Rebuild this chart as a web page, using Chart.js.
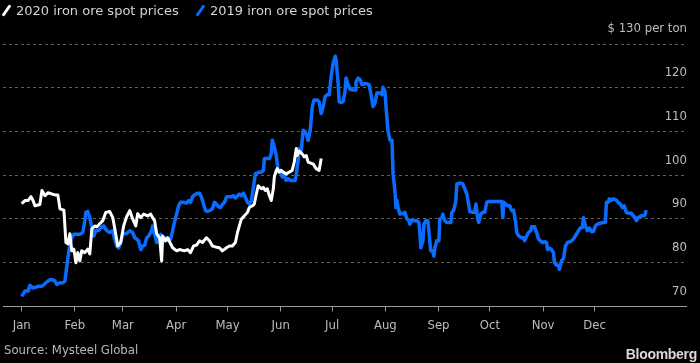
<!DOCTYPE html>
<html>
<head>
<meta charset="utf-8">
<script src="https://cdn.jsdelivr.net/npm/chart.js@4.4.1/dist/chart.umd.min.js"></script>
<style>
  html, body { margin: 0; padding: 0; background: #000; }
  #wrap { position: relative; width: 700px; height: 363px; background: #000; overflow: hidden; }
  #wrap canvas { position: absolute; left: 0; top: 0; }
  .legend-item { position: absolute; top: 2px; display: flex; align-items: center; height: 17px;
    font: 13px 'DejaVu Sans', sans-serif; color: #d4d4d4; white-space: nowrap; }
  .legend-item i { display: inline-block; width: 3px; height: 13px; margin: 0 8px 0 4px;
    transform: rotate(35deg); border-radius: 1px; }
  #source { position: absolute; left: 4px; top: 342px; font: 13px 'DejaVu Sans Condensed', 'DejaVu Sans', sans-serif; color: #b8b8b8; }
  #brand { position: absolute; right: 3px; top: 346px; font: bold 14px 'Liberation Sans', 'DejaVu Sans', sans-serif; color: #d8d8d8; letter-spacing: -0.3px; }
</style>
</head>
<body>
<div id="wrap">
  <canvas id="chart" width="700" height="363"></canvas>
  <div class="legend-item" style="left:1px"><i style="background:#ffffff"></i>2020 iron ore spot prices</div>
  <div class="legend-item" style="left:195px"><i style="background:#0a6cff"></i>2019 iron ore spot prices</div>
  <div id="source">Source: Mysteel Global</div>
  <div id="brand">Bloomberg</div>
</div>
<script>
// month starts as day-of-year
const monthStarts = [0, 31, 59, 90, 120, 151, 181, 212, 243, 273, 304, 334];
const monthLabels = ['Jan', 'Feb', 'Mar', 'Apr', 'May', 'Jun', 'Jul', 'Aug', 'Sep', 'Oct', 'Nov', 'Dec'];
const yTicks = [70, 80, 90, 100, 110, 120, 130];

// 2020 series (day of year, $ per ton)
const days2020 = [0, 1.9, 3.7, 5.4, 6.6, 7.7, 10.6, 11.8, 13.6, 15.3, 17.6, 19.4, 21.1, 22.3, 24.6,
  25.8, 26.9, 28.1, 29.2, 30.4, 31.6, 32.7, 33.9, 35.0, 36.8, 38.5, 39.7, 40.9, 42.6, 43.8, 45.5,
  47.3, 49.0, 51.3, 53.1, 54.8, 56.0, 57.7, 59.5, 61.2, 63.0, 64.7, 66.5, 67.6, 69.4, 71.1, 73.4,
  75.2, 76.3, 77.5, 78.7, 80.4, 81.6, 82.2, 83.9, 85.1, 88.0, 90.3, 92.0, 94.9, 96.7, 98.4, 100.2,
  101.9, 103.7, 105.4, 107.7, 109.5, 111.2, 113.0, 115.3, 117.0, 119.4, 121.1, 122.8, 124.6, 125.8,
  126.9, 128.1, 129.8, 131.6, 132.7, 134.5, 135.6, 136.8, 137.9, 139.7, 140.9, 142.0, 143.2, 144.4,
  145.5, 146.7, 147.3, 148.4, 149.0, 150.2, 151.3, 152.5, 154.2, 156.0, 157.7, 158.9, 160.1, 160.6,
  161.8, 163.5, 164.7, 165.9, 167.0, 168.2, 169.9, 171.7, 173.4, 174.6];
const prices2020 = [93.5, 94.2, 94.2, 95.1, 94.2, 93.0, 93.3, 96.5, 95.3, 96.0, 95.7, 95.5, 95.5, 92.3, 92.0,
  84.6, 84.3, 86.6, 82.7, 83.1, 80.0, 82.3, 80.4, 82.7, 82.3, 83.1, 82.0, 87.7, 88.4, 88.2, 88.9,
  89.6, 91.5, 91.7, 90.3, 86.6, 83.8, 84.6, 88.5, 90.5, 91.9, 90.0, 88.4, 91.2, 90.3, 91.1, 90.7,
  91.1, 90.3, 89.6, 86.6, 85.7, 80.4, 86.1, 85.0, 85.7, 83.4, 82.7, 83.0, 82.7, 83.0, 82.3, 83.8,
  84.0, 85.0, 84.6, 85.7, 85.0, 83.8, 83.6, 83.4, 82.7, 83.4, 83.8, 83.8, 84.6, 86.9,
  88.4, 90.0, 90.7, 91.5, 92.6, 93.0, 93.4, 95.7, 97.6, 96.9, 97.2, 96.5, 96.9, 95.3,
  94.2, 96.9, 99.6, 101.1, 101.5, 100.7, 101.1, 100.7, 100.3, 100.7, 101.1, 103.0, 106.1, 104.5,
  105.5, 104.9, 104.2, 104.5, 103.0, 102.8, 102.6, 101.5, 101.1, 103.8];

// 2019 series (day of year, $ per ton)
const days2019 = [0, 1.9, 3.7, 4.8, 6.6, 8.3, 10.1, 11.8, 13.0, 14.1, 15.3, 16.5, 18.2, 19.4, 20.5,
  22.3, 24.0, 25.2, 26.3, 27.5, 28.1, 29.2, 30.4, 32.2, 33.9, 35.6, 36.8, 37.4, 38.5, 39.7, 40.9,
  42.0, 43.2, 44.9, 46.1, 47.8, 49.6, 51.3, 53.1, 54.2, 55.4, 56.6, 57.7, 58.9, 61.2, 63.0, 64.7,
  65.9, 67.0, 68.2, 69.4, 70.5, 71.7, 72.9, 74.0, 75.8, 76.3, 77.5, 78.7, 79.8, 81.0, 82.2, 83.3,
  84.5, 85.6, 86.8, 88.0, 89.1, 90.3, 91.5, 92.6, 94.4, 96.1, 97.3, 98.4, 99.6, 100.8, 102.5, 103.7,
  104.8, 106.0, 107.2, 108.3, 110.1, 111.2, 112.4, 113.5, 114.7, 115.9, 117.0, 118.2, 119.4, 120.5,
  122.3, 123.4, 124.6, 125.8, 126.9, 128.1, 129.3, 130.4, 131.6, 132.7, 133.9, 135.1, 136.2, 137.4,
  138.5, 139.7, 140.9, 141.5, 143.2, 144.4, 145.5, 146.1, 147.3, 148.4, 149.6, 150.8, 151.9, 153.1,
  154.2, 155.4, 156.6, 158.3, 159.5, 160.1, 161.2, 161.8, 163.0, 164.1, 165.3, 166.5, 167.0, 168.2,
  169.4, 170.5, 172.3, 173.4, 174.6, 175.8, 176.9, 178.1, 179.3, 180.4, 181.6, 182.8, 183.3, 184.5,
  185.1, 186.2, 187.4, 188.5, 189.1, 190.3, 191.4, 192.6, 194.4, 194.9, 196.1, 197.3, 198.4, 199.6,
  201.3, 202.5, 203.7, 204.8, 206.0, 207.1, 208.9, 210.0, 210.6, 211.8, 212.4, 213.5, 214.7, 215.9,
  216.5, 217.6, 218.2, 218.8, 219.4, 220.5, 221.7, 222.9, 223.4, 224.6, 225.8, 226.3, 227.5, 228.7,
  230.4, 231.6, 232.2, 232.7, 233.9, 234.5, 235.6, 236.8, 237.4, 237.9, 238.5, 239.7, 240.3, 240.9,
  242.0, 243.2, 243.8, 245.0, 245.5, 246.7, 247.8, 249.0, 250.2, 250.8, 251.9, 253.1, 253.7, 256.0,
  257.2, 258.3, 259.5, 260.7, 261.2, 263.0, 264.2, 264.8, 265.9, 266.5, 267.7, 268.8, 270.0, 271.1,
  272.3, 274.0, 276.4, 278.1, 279.9, 280.5, 281.0, 282.2, 283.4, 284.5, 285.7, 286.8, 288.0, 288.6,
  289.8, 291.5, 292.6, 293.2, 294.4, 295.5, 296.7, 297.3, 299.0, 300.2, 301.3, 302.5, 303.7, 304.8,
  306.0, 306.6, 307.7, 308.9, 310.0, 310.6, 311.8, 312.9, 313.5, 314.7, 315.9, 317.0, 318.2, 319.9,
  321.7, 323.4, 324.6, 325.8, 326.9, 327.5, 328.7, 329.8, 331.0, 332.2, 333.3, 334.5, 335.6, 337.4,
  339.1, 340.3, 340.9, 342.0, 342.6, 343.8, 344.9, 346.7, 347.8, 349.0, 350.2, 351.3, 352.5, 354.2,
  355.4, 356.5, 357.7, 358.3, 359.5, 361.2, 362.9, 363.5, 364.1];
const prices2019 = [72.3, 73.5, 73.5, 74.8, 74.2, 74.4, 74.6, 74.6, 75.0, 75.4, 75.8, 76.1, 76.1, 75.8, 75.0,
  75.4, 75.4, 75.8, 79.2, 82.7, 84.2, 85.7, 86.5, 86.5, 86.5, 86.9, 89.6, 91.5, 91.7, 90.3, 88.0,
  86.1, 87.3, 87.4, 88.0, 88.4, 87.3, 86.9, 87.3, 85.4, 83.8, 83.4, 84.6, 86.5, 86.7, 87.3, 86.9,
  85.7, 85.4, 85.0, 83.0, 83.8, 84.0, 85.7, 86.1, 87.3, 88.4, 86.5, 84.6, 86.1, 86.5, 85.7, 85.0,
  85.7, 85.0, 85.4, 87.3, 89.3, 91.1, 93.0, 93.8, 93.8, 93.6, 94.2, 93.8, 95.1, 95.5, 95.9, 95.9,
  95.0, 93.4, 91.9, 91.7, 92.0, 92.3, 93.8, 93.4, 92.8, 92.6, 93.3, 93.8, 95.0, 95.1,
  95.1, 95.3, 94.8, 95.3, 95.7, 95.3, 95.9, 95.0, 93.8, 93.4, 94.2, 97.2, 100.3, 100.5,
  100.7, 100.7, 101.1, 103.8, 103.8, 103.8, 104.9, 108.0, 106.5, 104.5, 100.7, 101.1, 99.6, 99.9,
  98.8, 99.2, 98.8, 98.8, 98.8, 100.3, 103.4, 106.1, 105.7, 110.3, 109.9, 108.8, 108.0, 110.3,
  115.7, 117.2, 117.2, 116.8, 114.1, 115.7, 118.0, 118.4, 118.4, 122.6, 125.7, 127.2, 126.4, 121.0,
  116.8, 116.6, 116.8, 119.1, 122.2, 120.7, 119.7, 119.5, 119.5, 121.4, 122.2, 121.8, 120.7, 120.9,
  120.9, 120.7, 118.4, 115.7, 116.5, 118.8, 118.8, 118.4, 120.1, 119.1, 115.7, 110.3, 108.0, 108.0,
  100.3, 96.5, 92.6, 94.2, 92.6, 91.1, 91.3, 91.1, 91.5, 90.0, 89.6, 88.8, 89.8, 89.6,
  89.6, 89.2, 86.5, 83.4, 85.0, 88.8, 89.6, 89.6, 87.3, 85.0, 82.7, 82.7, 81.5, 83.4,
  85.0, 85.0, 90.0, 90.3, 91.1, 89.6, 89.2, 89.2, 89.2, 91.5, 92.0, 94.2, 98.0, 98.2,
  98.0, 96.9, 95.7, 93.0, 91.7, 91.5, 91.5, 93.4, 90.0, 89.2, 91.1, 91.5, 91.5, 93.8,
  94.0, 94.0, 94.0, 94.0, 94.0, 90.3, 93.8, 93.4, 93.0, 93.0, 91.9, 92.0, 89.2, 86.9,
  86.1, 85.7, 85.7, 85.0, 86.1, 86.9, 87.3, 88.2, 88.2, 86.9, 85.4, 85.0, 84.6, 84.8,
  84.6, 83.0, 83.3, 83.0, 82.3, 80.0, 79.4, 79.4, 78.5, 80.4, 81.0, 83.8, 84.6, 84.8,
  85.4, 86.5, 87.3, 88.0, 88.0, 90.3, 88.4, 87.3, 87.9, 87.1, 87.1, 88.4, 88.8, 89.0,
  89.2, 89.2, 93.8, 93.8, 94.6, 94.2, 94.6, 94.3, 93.8, 93.4, 92.6, 93.0, 91.5, 91.3,
  91.3, 90.7, 90.3, 89.6, 90.3, 90.7, 90.7, 91.1, 92.0];

const toPoints = (xs, ys) => xs.map((x, i) => ({ x: x, y: ys[i] }));

const condensed = "'DejaVu Sans Condensed', 'DejaVu Sans', sans-serif";

const chart = new Chart(document.getElementById('chart').getContext('2d'), {
  type: 'line',
  data: {
    datasets: [
      { label: '2020 iron ore spot prices', data: toPoints(days2020, prices2020),
        borderColor: '#ffffff', borderWidth: 3, pointRadius: 0, tension: 0, borderJoinStyle: 'round' },
      { label: '2019 iron ore spot prices', data: toPoints(days2019, prices2019),
        borderColor: '#0a6cff', borderWidth: 3.5, pointRadius: 0, tension: 0, borderJoinStyle: 'round' }
    ]
  },
  options: {
    responsive: false,
    animation: false,
    devicePixelRatio: 1,
    layout: { padding: { left: 3, right: 12, top: 44, bottom: 24 } },
    plugins: { legend: { display: false }, tooltip: { enabled: false } },
    scales: {
      x: {
        type: 'linear',
        min: -10.9,
        max: 387.3,
        afterBuildTicks: axis => { axis.ticks = monthStarts.map(v => ({ value: v })); },
        ticks: {
          autoSkip: false, maxRotation: 0, padding: 6, color: '#bdbdbd',
          font: { family: condensed, size: 13 },
          callback: (v, i) => monthLabels[i]
        },
        grid: { drawOnChartArea: false, drawTicks: true, tickLength: 5, color: '#9a9a9a' },
        border: { display: true, color: '#9a9a9a', width: 1 }
      },
      y: {
        position: 'right',
        min: 70,
        max: 130,
        afterBuildTicks: axis => { axis.ticks = yTicks.map(v => ({ value: v })); },
        ticks: {
          mirror: true, padding: 1, labelOffset: -15, color: '#bdbdbd',
          font: { family: condensed, size: 13 },
          callback: v => v === 130 ? '$ 130 per ton' : v
        },
        grid: { drawTicks: false, color: '#5e5e5e', lineWidth: 1, borderDash: [3, 3] },
        border: { display: false, dash: [3, 3] }
      }
    }
  }
});
</script>
</body>
</html>
